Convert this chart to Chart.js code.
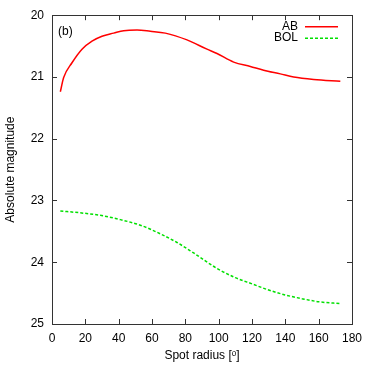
<!DOCTYPE html>
<html>
<head>
<meta charset="utf-8">
<script src="https://cdn.jsdelivr.net/npm/chart.js@4"></script>
<style>
  html, body { margin: 0; padding: 0; background: #fff; }
  #wrap { width: 374px; height: 374px; }
</style>
</head>
<body>
<div id="wrap"><canvas id="chart" width="374" height="374"></canvas></div>
<script>
// spot radius (deg) vs absolute magnitude
const radiusAB = [5, 7, 12, 18, 24, 30, 37, 43, 51, 59, 68, 81, 93, 99, 109, 119, 127, 137, 145, 157, 173];
const magAB = [21.24, 21.01, 20.77, 20.55, 20.42, 20.34, 20.29, 20.25, 20.24, 20.26, 20.29, 20.40, 20.55, 20.62, 20.76, 20.83, 20.89, 20.95, 21.00, 21.04, 21.07];
const radiusBOL = [5, 17, 29, 41, 53, 65, 75, 85, 99, 110, 120, 130, 140, 150, 160, 173];
const magBOL = [23.17, 23.20, 23.24, 23.31, 23.40, 23.54, 23.68, 23.85, 24.10, 24.25, 24.35, 24.45, 24.53, 24.59, 24.64, 24.67];
const seriesNames = ["AB", "BOL"];
const seriesColors = ["#ff0000", "#00e000"];
const xTicks = [0, 20, 40, 60, 80, 100, 120, 140, 160, 180];
const yTicks = [20, 21, 22, 23, 24, 25];
const panelLabel = "(b)";

const toPts = (xs, ys) => xs.map((x, i) => ({ x: x, y: ys[i] }));
const font = "Liberation Sans, Arial, sans-serif";

// inward ticks on all four sides, plus the box
const frameTicks = {
  id: "frameTicks",
  afterDraw(chart) {
    const { ctx, chartArea: a, scales } = chart;
    const len = 5;
    ctx.save();
    ctx.strokeStyle = "#333";
    ctx.lineWidth = 1;
    ctx.beginPath();
    xTicks.forEach(v => {
      const px = Math.round(scales.x.getPixelForValue(v)) + 0.5;
      ctx.moveTo(px, a.bottom); ctx.lineTo(px, a.bottom - len);
      ctx.moveTo(px, a.top); ctx.lineTo(px, a.top + len);
    });
    yTicks.forEach(v => {
      const py = Math.round(scales.y.getPixelForValue(v)) + 0.5;
      ctx.moveTo(a.left, py); ctx.lineTo(a.left + len, py);
      ctx.moveTo(a.right, py); ctx.lineTo(a.right - len, py);
    });
    ctx.stroke();
    ctx.strokeRect(Math.round(a.left) + 0.5, Math.round(a.top) + 0.5,
      Math.round(a.right - a.left), Math.round(a.bottom - a.top));

    // panel label
    ctx.fillStyle = "#000";
    ctx.font = "12px " + font;
    ctx.textBaseline = "middle";
    ctx.textAlign = "left";
    ctx.fillText(panelLabel, a.left + 6, a.top + 16);

    // legend, gnuplot style: text then sample line
    const tx = a.right - 54, lx0 = a.right - 47, lx1 = a.right - 14;
    chart.data.datasets.forEach((ds, i) => {
      const y = a.top + 11 + i * 11.5;
      ctx.textAlign = "right";
      ctx.fillStyle = "#000";
      ctx.fillText(ds.label, tx, y);
      ctx.strokeStyle = ds.borderColor;
      ctx.lineWidth = 1.5;
      ctx.setLineDash(ds.borderDash || []);
      ctx.beginPath();
      ctx.moveTo(lx0, y + 0.5); ctx.lineTo(lx1, y + 0.5);
      ctx.stroke();
    });
    ctx.restore();
  }
};

new Chart(document.getElementById("chart"), {
  type: "line",
  data: {
    datasets: [
      {
        label: seriesNames[0],
        data: toPts(radiusAB, magAB),
        borderColor: seriesColors[0],
        borderWidth: 1.5,
        pointRadius: 0,
        cubicInterpolationMode: "monotone"
      },
      {
        label: seriesNames[1],
        data: toPts(radiusBOL, magBOL),
        borderColor: seriesColors[1],
        borderWidth: 1.5,
        borderDash: [3, 2],
        pointRadius: 0,
        cubicInterpolationMode: "monotone"
      }
    ]
  },
  options: {
    responsive: false,
    animation: false,
    layout: { padding: { top: 14, right: 22, left: 0, bottom: 0 } },
    plugins: { legend: { display: false }, tooltip: { enabled: false } },
    scales: {
      x: {
        type: "linear",
        min: 0, max: 180,
        afterBuildTicks: s => { s.ticks = xTicks.map(v => ({ value: v })); },
        afterFit: s => { s.height = 50; },
        grid: { display: false, drawTicks: false },
        border: { display: false },
        ticks: { color: "#000", padding: 7, maxRotation: 0, font: { family: font, size: 12 } },
        title: {
          display: true,
          text: "Spot radius [ᵒ]",
          color: "#000",
          font: { family: font, size: 12 },
          padding: { top: 0, bottom: 11 },
          align: "center"
        }
      },
      y: {
        min: 20, max: 25,
        reverse: true,
        afterBuildTicks: s => { s.ticks = yTicks.map(v => ({ value: v })); },
        afterFit: s => { s.width = 52; },
        grid: { display: false, drawTicks: false },
        border: { display: false },
        ticks: { color: "#000", padding: 8, font: { family: font, size: 12 } },
        title: {
          display: true,
          text: "Absolute magnitude",
          color: "#000",
          font: { family: font, size: 12 },
          padding: { top: 3, bottom: 0 }
        }
      }
    }
  },
  plugins: [frameTicks]
});
</script>
</body>
</html>
